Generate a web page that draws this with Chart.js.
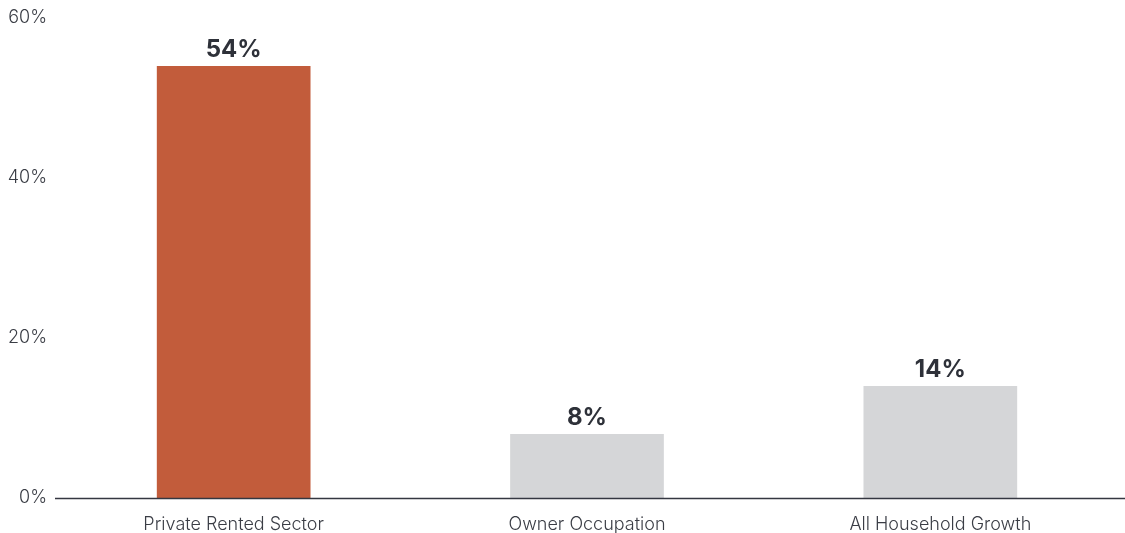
<!DOCTYPE html>
<html>
<head>
<meta charset="utf-8">
<script src="https://cdn.jsdelivr.net/npm/chart.js@4/dist/chart.umd.min.js"></script>
<style>
html,body{margin:0;padding:0;background:#fff;}
#wrap{width:1125px;height:533px;position:relative;}
</style>
</head>
<body>
<div id="wrap"><canvas id="c" width="1125" height="533"></canvas></div>
<script>
const categories = ["Private Rented Sector", "Owner Occupation", "All Household Growth"];
const values = [54, 8, 14];
const barColors = ["#C25C3B", "#D5D6D8", "#D5D6D8"];
const yTicks = [0, 20, 40, 60];

const FONT = "Inter, 'Open Sans', sans-serif";

const valueLabels = {
  id: 'valueLabels',
  afterDatasetsDraw(chart) {
    const ctx = chart.ctx;
    const meta = chart.getDatasetMeta(0);
    ctx.save();
    ctx.fillStyle = '#2E3139';
    ctx.font = "bold 24px " + FONT;
    ctx.textAlign = 'center';
    ctx.textBaseline = 'alphabetic';
    meta.data.forEach((bar, i) => {
      ctx.fillText(values[i] + '%', bar.x, bar.y - 9);
    });
    ctx.restore();
  }
};

const baseline = {
  id: 'baseline',
  afterDatasetsDraw(chart) {
    const ctx = chart.ctx;
    const y = chart.scales.y.getPixelForValue(0);
    ctx.save();
    ctx.strokeStyle = '#343741';
    ctx.lineWidth = 1.3;
    ctx.beginPath();
    ctx.moveTo(55, y + 0.5);
    ctx.lineTo(1125, y + 0.5);
    ctx.stroke();
    ctx.restore();
  }
};

new Chart(document.getElementById('c'), {
  type: 'bar',
  data: {
    labels: categories,
    datasets: [{
      data: values,
      backgroundColor: barColors,
      borderWidth: 0,
      categoryPercentage: 1,
      barPercentage: 0.435
    }]
  },
  options: {
    responsive: false,
    animation: false,
    devicePixelRatio: 1,
    layout: { padding: { top: 18, right: 8, left: 0, bottom: 0 } },
    plugins: { legend: { display: false }, tooltip: { enabled: false } },
    scales: {
      x: {
        grid: { display: false, drawTicks: false },
        border: { display: false },
        ticks: { color: '#3A3D45', font: { family: FONT, size: 18, weight: 300 }, padding: 16, maxRotation: 0 },
        afterFit(s) { s.height = 35; s.paddingLeft = 0; s.paddingRight = 0; }
      },
      y: {
        min: 0, max: 60,
        afterBuildTicks(s) { s.ticks = yTicks.map(v => ({ value: v })); },
        grid: { display: false, drawTicks: false },
        border: { display: false },
        ticks: { color: '#3A3D45', font: { family: FONT, size: 18, weight: 300 }, padding: 10, callback: v => v + '%' },
        afterFit(s) { s.width = 57; s.paddingTop = 0; s.paddingBottom = 0; }
      }
    }
  },
  plugins: [valueLabels, baseline]
});
</script>
</body>
</html>
